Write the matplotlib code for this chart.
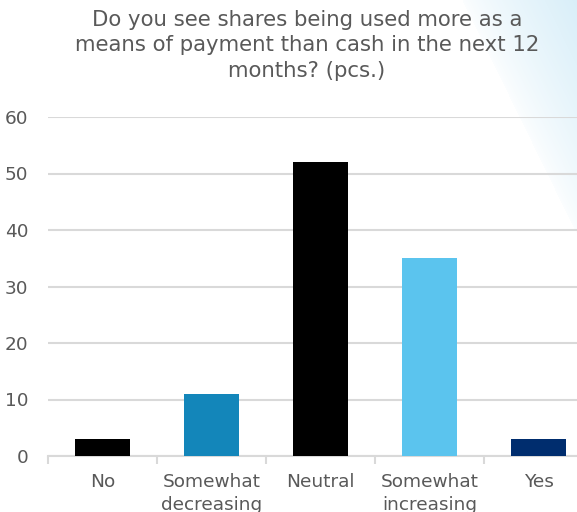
import numpy as np
import matplotlib.pyplot as plt

plt.rcParams["font.family"] = "DejaVu Sans"

# data
categories = ["No", "Somewhat\ndecreasing", "Neutral", "Somewhat\nincreasing", "Yes"]
counts = [3, 11, 52, 35, 3]
bar_colors = ["#000000", "#1386BA", "#000000", "#5BC4EE", "#002D6E"]
title = "Do you see shares being used more as a\nmeans of payment than cash in the next 12\nmonths? (pcs.)"

TEXT = "#595959"
GRID = "#D9D9D9"

W, H = 577, 512
fig = plt.figure(figsize=(W / 100, H / 100), dpi=100)

# light blue corner shading (top right)
bg = fig.add_axes([0, 0, 1, 1], zorder=-1)
xx, yy = np.meshgrid(np.arange(W), np.arange(H))
d = (xx - 462) - yy * (115 / 235.0)
t = np.clip(d / 115.0, 0, 1) ** 0.8
t = np.where(d > 0, 0.08 + 0.92 * t, 0)
img = np.ones((H, W, 3))
top = np.array([0.85, 0.935, 0.975])
for c in range(3):
    img[..., c] = 1 - t * (1 - top[c])
bg.imshow(img, aspect="auto", extent=[0, W, H, 0])
bg.set_axis_off()

ax = fig.add_axes([48 / W, 56 / H, (W - 48) / W, 339 / H])
ax.patch.set_alpha(0)

x = np.arange(len(categories))
ax.bar(x, counts, width=0.5, color=bar_colors, zorder=3)

ax.set_yticks(range(0, 61, 10))
ax.set_xticks(x)
ax.set_xticklabels(categories)
ax.set_xticks(np.arange(-0.5, 4.0, 1.0), minor=True)
# last category runs past the right edge, as in the source image
ax.set_xlim(-0.5, -0.5 + (W - 48) / 109.0)
ax.set_ylim(0, 60)

ax.grid(axis="y", color=GRID, linewidth=1.5, zorder=0)
for s in ["top", "right", "left"]:
    ax.spines[s].set_visible(False)
ax.spines["bottom"].set_color(GRID)
ax.spines["bottom"].set_linewidth(1.5)

ax.tick_params(axis="x", which="major", length=0, pad=12, labelsize=13.3, labelcolor=TEXT)
ax.tick_params(axis="x", which="minor", length=6, width=1.5, color=GRID)
ax.tick_params(axis="y", length=0, pad=14, labelsize=13.3, labelcolor=TEXT)
for lab in ax.get_xticklabels():
    lab.set_linespacing(1.35)

fig.text(307 / W, 1 - 10 / H, title, ha="center", va="top", fontsize=15.3,
         color=TEXT, linespacing=1.33)

fig.savefig("out.png", dpi=100)
